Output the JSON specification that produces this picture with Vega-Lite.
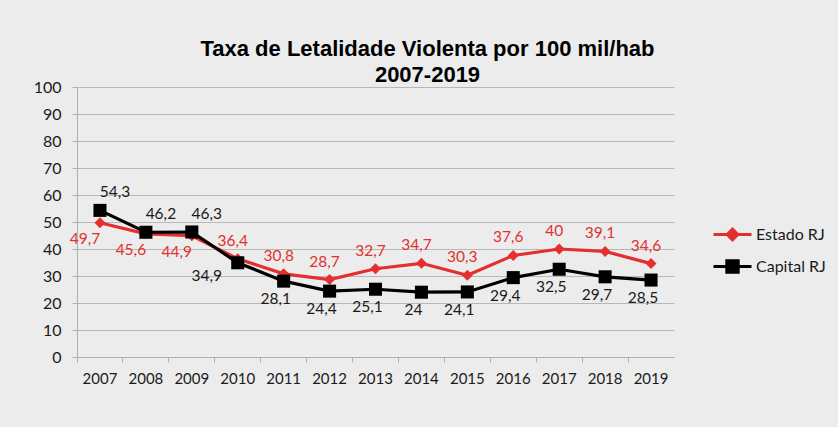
{
  "$schema": "https://vega.github.io/schema/vega-lite/v6.json",
  "width": 597,
  "height": 270,
  "autosize": "none",
  "padding": {"left": 77, "top": 87, "right": 164, "bottom": 70},
  "background": "#ececec",
  "config": {
    "locale": {"number": {"decimal": ",", "thousands": ".", "grouping": [3], "currency": ["R$", ""]}},
    "view": {"stroke": null},
    "font": "Lato"
  },
  "title": {
    "text": ["Taxa de Letalidade Violenta por 100 mil/hab", "2007-2019"],
    "font": "Liberation Sans",
    "fontSize": 22,
    "fontWeight": "bold",
    "color": "#000000",
    "lineHeight": 26,
    "anchor": "middle",
    "dx": 52,
    "dy": 10,
    "offset": 2
  },
  "data": {
    "values": [
      {"ano": "2007", "serie": "Estado RJ", "taxa": 49.7},
      {"ano": "2008", "serie": "Estado RJ", "taxa": 45.6},
      {"ano": "2009", "serie": "Estado RJ", "taxa": 44.9},
      {"ano": "2010", "serie": "Estado RJ", "taxa": 36.4},
      {"ano": "2011", "serie": "Estado RJ", "taxa": 30.8},
      {"ano": "2012", "serie": "Estado RJ", "taxa": 28.7},
      {"ano": "2013", "serie": "Estado RJ", "taxa": 32.7},
      {"ano": "2014", "serie": "Estado RJ", "taxa": 34.7},
      {"ano": "2015", "serie": "Estado RJ", "taxa": 30.3},
      {"ano": "2016", "serie": "Estado RJ", "taxa": 37.6},
      {"ano": "2017", "serie": "Estado RJ", "taxa": 40},
      {"ano": "2018", "serie": "Estado RJ", "taxa": 39.1},
      {"ano": "2019", "serie": "Estado RJ", "taxa": 34.6},
      {"ano": "2007", "serie": "Capital RJ", "taxa": 54.3},
      {"ano": "2008", "serie": "Capital RJ", "taxa": 46.2},
      {"ano": "2009", "serie": "Capital RJ", "taxa": 46.3},
      {"ano": "2010", "serie": "Capital RJ", "taxa": 34.9},
      {"ano": "2011", "serie": "Capital RJ", "taxa": 28.1},
      {"ano": "2012", "serie": "Capital RJ", "taxa": 24.4},
      {"ano": "2013", "serie": "Capital RJ", "taxa": 25.1},
      {"ano": "2014", "serie": "Capital RJ", "taxa": 24},
      {"ano": "2015", "serie": "Capital RJ", "taxa": 24.1},
      {"ano": "2016", "serie": "Capital RJ", "taxa": 29.4},
      {"ano": "2017", "serie": "Capital RJ", "taxa": 32.5},
      {"ano": "2018", "serie": "Capital RJ", "taxa": 29.7},
      {"ano": "2019", "serie": "Capital RJ", "taxa": 28.5}
    ]
  },
  "encoding": {
    "x": {
      "field": "ano",
      "type": "ordinal",
      "scale": {"type": "band", "paddingInner": 0, "paddingOuter": 0},
      "axis": {
        "title": null,
        "labelAngle": 0,
        "bandPosition": 0,
        "labelOffset": 0,
        "labelFont": "Lato",
        "labelFontSize": 15,
        "labelColor": "#1a1a1a",
        "labelPadding": 9,
        "tickColor": "#b0b0b0",
        "tickSize": 5,
        "domainColor": "#b0b0b0",
        "grid": false
      }
    },
    "y": {
      "field": "taxa",
      "type": "quantitative",
      "scale": {"domain": [0, 100]},
      "axis": {
        "title": null,
        "values": [0, 10, 20, 30, 40, 50, 60, 70, 80, 90, 100],
        "labelFont": "Lato",
        "labelFontSize": 16,
        "labelColor": "#1a1a1a",
        "labelPadding": 11,
        "tickColor": "#b0b0b0",
        "tickSize": 5,
        "domainColor": "#b0b0b0",
        "gridColor": "#b8b8b8",
        "gridWidth": 1
      }
    },
    "color": {
      "field": "serie",
      "type": "nominal",
      "scale": {"domain": ["Estado RJ", "Capital RJ"], "range": ["#e3302f", "#000000"]},
      "legend": {
        "title": null,
        "orient": "none",
        "legendX": 635,
        "legendY": 127,
        "symbolSize": 1444,
        "symbolStrokeWidth": 3,
        "labelFont": "Lato",
        "labelFontSize": 16,
        "labelColor": "#1a1a1a",
        "labelOffset": 3,
        "rowPadding": -2,
        "encode": {
          "symbols": {
            "update": {
              "shape": {"signal": "datum.value === 'Estado RJ' ? 'M-1,0L1,0M0,-0.28L0.28,0L0,0.28L-0.28,0Z' : 'M-1,0L1,0M-0.3,-0.3L0.3,-0.3L0.3,0.3L-0.3,0.3Z'"},
              "fill": {"signal": "datum.value === 'Estado RJ' ? '#e3302f' : '#000000'"},
              "stroke": {"signal": "datum.value === 'Estado RJ' ? '#e3302f' : '#000000'"},
              "strokeWidth": {"value": 3},
              "opacity": {"value": 1}
            }
          }
        }
      }
    }
  },
  "layer": [
    {
      "mark": {"type": "line", "strokeWidth": 3.2}
    },
    {
      "transform": [{"filter": "datum.serie === 'Estado RJ'"}],
      "mark": {"type": "point", "filled": true, "opacity": 1, "shape": "diamond", "size": 120}
    },
    {
      "transform": [{"filter": "datum.serie === 'Capital RJ'"}],
      "mark": {"type": "point", "filled": true, "opacity": 1, "shape": "square", "size": 170}
    },
    {
      "transform": [{"filter": "datum.serie === 'Estado RJ' && datum.ano <= '2009'"}],
      "mark": {"type": "text", "fontSize": 15.5, "font": "Lato", "baseline": "middle", "dx": -15, "dy": 16},
      "encoding": {"text": {"field": "taxa", "type": "quantitative", "format": ".1~f"}, "color": {"value": "#e3302f"}}
    },
    {
      "transform": [{"filter": "datum.serie === 'Estado RJ' && datum.ano > '2009'"}],
      "mark": {"type": "text", "fontSize": 15.5, "font": "Lato", "baseline": "middle", "dx": -5, "dy": -18},
      "encoding": {"text": {"field": "taxa", "type": "quantitative", "format": ".1~f"}, "color": {"value": "#e3302f"}}
    },
    {
      "transform": [{"filter": "datum.serie === 'Capital RJ' && datum.ano <= '2009'"}],
      "mark": {"type": "text", "fontSize": 15.5, "font": "Lato", "baseline": "middle", "dx": 15, "dy": -18},
      "encoding": {"text": {"field": "taxa", "type": "quantitative", "format": ".1~f"}, "color": {"value": "#1a1a1a"}}
    },
    {
      "transform": [{"filter": "datum.serie === 'Capital RJ' && datum.ano === '2010'"}],
      "mark": {"type": "text", "fontSize": 15.5, "font": "Lato", "baseline": "middle", "dx": -31, "dy": 13},
      "encoding": {"text": {"field": "taxa", "type": "quantitative", "format": ".1~f"}, "color": {"value": "#1a1a1a"}}
    },
    {
      "transform": [{"filter": "datum.serie === 'Capital RJ' && datum.ano > '2010'"}],
      "mark": {"type": "text", "fontSize": 15.5, "font": "Lato", "baseline": "middle", "dx": -8, "dy": 18},
      "encoding": {"text": {"field": "taxa", "type": "quantitative", "format": ".1~f"}, "color": {"value": "#1a1a1a"}}
    }
  ]
}
